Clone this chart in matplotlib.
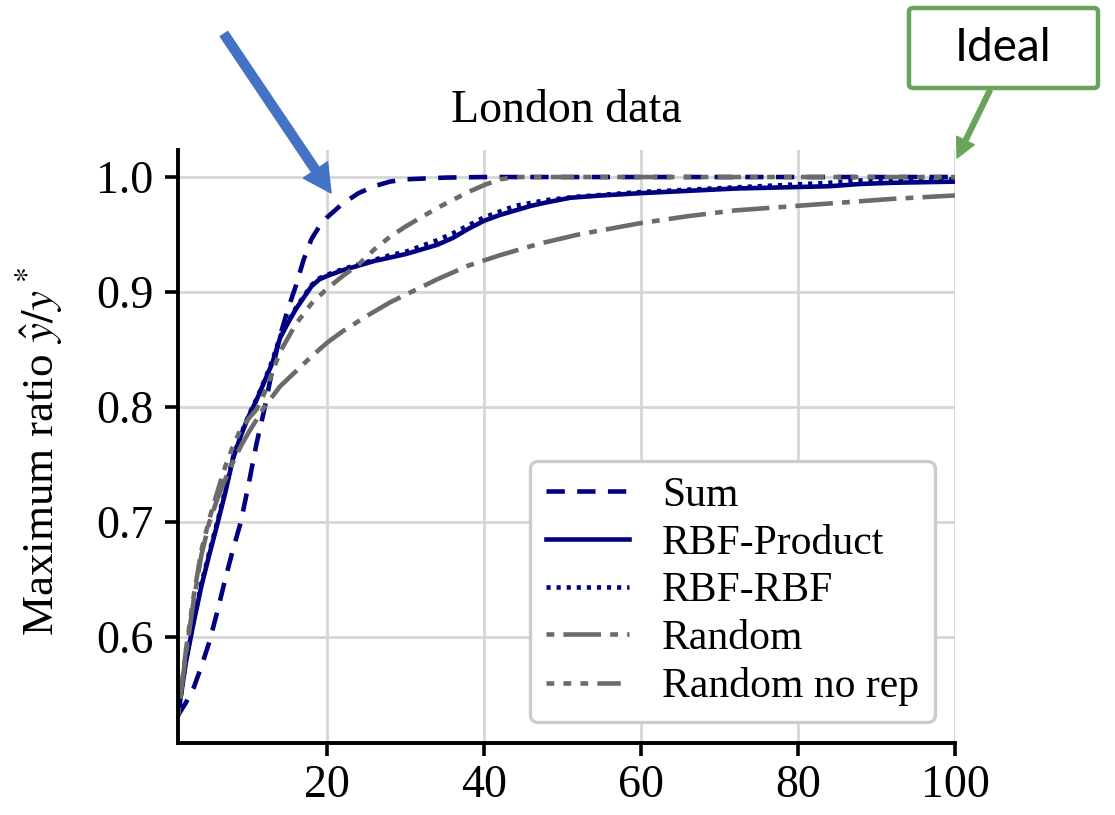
import matplotlib
matplotlib.use("Agg")
import matplotlib.pyplot as plt
from matplotlib.patches import FancyBboxPatch

plt.rcParams['font.family'] = ['Liberation Serif', 'DejaVu Serif']
plt.rcParams['mathtext.fontset'] = 'stix'

# curves (number of evaluations -> max ratio)
sum_x = [1, 2, 3, 4, 5, 6, 7, 8, 9, 10, 11, 12, 13, 14, 15, 16, 17, 18, 19, 20,
         22, 24, 26, 28, 30, 35, 40, 100]
sum_y = [0.532, 0.543, 0.556, 0.575, 0.596, 0.622, 0.650, 0.676, 0.700, 0.733,
         0.768, 0.798, 0.832, 0.862, 0.885, 0.905, 0.928, 0.946, 0.957, 0.965,
         0.977, 0.986, 0.992, 0.996, 0.998, 0.9995, 1.0, 1.0]

prod_x = [1, 2, 3, 4, 5, 6, 7, 8, 9, 10, 11, 12, 13, 14, 15, 16, 17, 18, 19, 20,
          22, 24, 26, 28, 30, 32, 34, 36, 38, 40, 42, 44, 46, 48, 51, 55, 60, 66,
          72, 78, 84, 88, 92, 100]
prod_y = [0.532, 0.578, 0.613, 0.645, 0.672, 0.698, 0.725, 0.755, 0.775, 0.792,
          0.806, 0.822, 0.838, 0.860, 0.873, 0.885, 0.895, 0.905, 0.911, 0.914,
          0.919, 0.923, 0.927, 0.930, 0.933, 0.937, 0.941, 0.947, 0.955, 0.962,
          0.967, 0.971, 0.975, 0.978, 0.982, 0.984, 0.986, 0.988, 0.990, 0.991,
          0.992, 0.994, 0.995, 0.996]

rbf_x = [1, 2, 3, 4, 5, 6, 7, 8, 9, 10, 11, 12, 13, 14, 15, 16, 17, 18, 19, 20,
         22, 24, 26, 28, 30, 32, 34, 36, 38, 40, 44, 48, 52, 56, 60, 66, 72, 78,
         84, 88, 92, 100]
rbf_y = [0.532, 0.580, 0.615, 0.647, 0.674, 0.700, 0.727, 0.756, 0.776, 0.793,
         0.807, 0.823, 0.840, 0.861, 0.874, 0.886, 0.896, 0.906, 0.912, 0.915,
         0.920, 0.924, 0.928, 0.932, 0.935, 0.940, 0.945, 0.951, 0.958, 0.965,
         0.975, 0.980, 0.983, 0.985, 0.987, 0.989, 0.991, 0.993, 0.995, 0.997,
         0.997, 0.998]

rand_x = [1, 2, 3, 4, 5, 6, 7, 8, 9, 10, 12, 14, 16, 18, 20, 22, 25, 28, 31, 34,
          38, 42, 47, 52, 60, 66, 72, 80, 86, 92, 100]
rand_y = [0.532, 0.585, 0.632, 0.672, 0.700, 0.720, 0.737, 0.752, 0.766, 0.778,
          0.800, 0.818, 0.831, 0.844, 0.856, 0.866, 0.879, 0.891, 0.901, 0.911,
          0.923, 0.932, 0.942, 0.950, 0.960, 0.966, 0.971, 0.975, 0.978, 0.981,
          0.984]

norep_x = [1, 2, 3, 4, 5, 6, 7, 8, 9, 10, 11, 12, 13, 14, 16, 18, 20, 22, 24, 26,
           28, 30, 32, 34, 36, 38, 40, 42, 44, 100]
norep_y = [0.532, 0.588, 0.636, 0.676, 0.703, 0.726, 0.748, 0.766, 0.781, 0.790,
           0.798, 0.812, 0.830, 0.848, 0.872, 0.890, 0.903, 0.914, 0.924, 0.937,
           0.948, 0.957, 0.965, 0.973, 0.980, 0.987, 0.993, 0.998, 1.0, 1.0]

navy = 'navy'
grey = '#6b6b6b'

fig = plt.figure(figsize=(11.15, 8.15), dpi=100)
ax = fig.add_axes([178 / 1115, 1 - 743 / 815, 777 / 1115, 593 / 815])

lw = 3.3
ax.plot(sum_x, sum_y, color=navy, lw=lw, dashes=(4.0, 2.7), label='Sum')
ax.plot(prod_x, prod_y, color=navy, lw=lw, label='RBF-Product')
ax.plot(rbf_x, rbf_y, color=navy, lw=lw, dashes=(0.9, 1.3), label='RBF-RBF')
ax.plot(rand_x, rand_y, color=grey, lw=lw, dashes=(1.7, 2.0, 8.2, 2.0), label='Random')
ax.plot(norep_x, norep_y, color=grey, lw=lw,
        dashes=(1.7, 2.0, 1.7, 2.0, 1.7, 2.0, 5.1, 2.0), label='Random no rep')

ax.set_xlim(1, 100)
ax.set_ylim(0.508, 1.0235)
ax.set_xticks([20, 40, 60, 80, 100])
ax.set_yticks([0.6, 0.7, 0.8, 0.9, 1.0])
ax.grid(True, color='#d6d6d6', lw=2.0)
ax.set_axisbelow(True)
for s in ['top', 'right']:
    ax.spines[s].set_visible(False)
for s in ['left', 'bottom']:
    ax.spines[s].set_linewidth(2.8)
ax.tick_params(axis='both', labelsize=33, length=9.5, width=2.6)
ax.tick_params(axis='x', pad=6)
ax.tick_params(axis='y', pad=8)

ax.set_title('London data', fontsize=33, pad=20)
ax.set_ylabel(r'Maximum ratio $\hat{y}/y^*$', fontsize=32.5)
ax.yaxis.set_label_coords(-0.145, 0.492)

leg = ax.legend(loc='lower right', bbox_to_anchor=(935 / 1115, 1 - 722 / 815),
                bbox_transform=fig.transFigure, borderaxespad=0, fontsize=30,
                labelspacing=0.22, borderpad=0.38, framealpha=1, fancybox=True)
leg.get_frame().set_edgecolor('#cccccc')
leg.get_frame().set_linewidth(2.4)

# overlay annotations
blue = '#4472C4'
ax.annotate('', xy=(331, 815 - 193), xytext=(224, 815 - 34),
            xycoords='figure pixels', textcoords='figure pixels',
            arrowprops=dict(width=6.5, headwidth=21, headlength=20,
                            color=blue, shrink=0))

green = '#68a55a'
box = FancyBboxPatch((909 / 1115, 1 - 88 / 815), 189 / 1115, 80 / 815,
                     boxstyle='round,pad=0,rounding_size=0.004',
                     transform=fig.transFigure, facecolor='white',
                     edgecolor=green, lw=3.2)
fig.add_artist(box)
fig.text(1003 / 1115, 1 - 48 / 815, 'Ideal', family=['Lato', 'DejaVu Sans'],
         fontsize=33, ha='center', va='center')
ax.annotate('', xy=(957, 815 - 158), xytext=(990, 815 - 90),
            xycoords='figure pixels', textcoords='figure pixels',
            arrowprops=dict(width=3.5, headwidth=14, headlength=14,
                            color=green, shrink=0))

fig.savefig('out.png', dpi=100)
